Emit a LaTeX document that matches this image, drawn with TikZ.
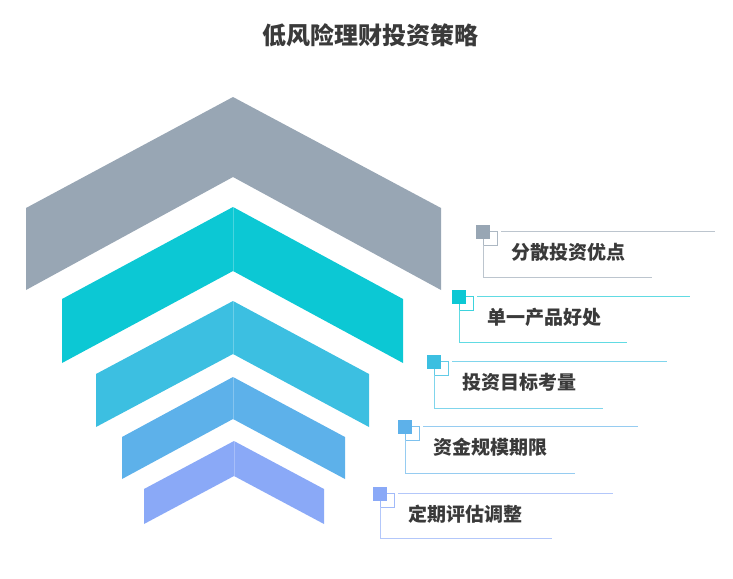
\documentclass[tikz,border=0pt]{standalone}
\usepackage{fontspec}
\setmainfont{Liberation Sans}
\newfontfamily\cjk{Noto Sans CJK SC}
\definecolor{cA}{HTML}{98A6B4}
\definecolor{cB}{HTML}{0CC8D4}
\definecolor{cC}{HTML}{3CBFE1}
\definecolor{cD}{HTML}{5DB1EA}
\definecolor{cE}{HTML}{8AA9F7}
\definecolor{txt}{HTML}{3A3A3A}
\tikzset{
  chev/.style={draw=none},
  seam/.style={draw=white,opacity=0.25,line width=0.6pt},
  marksq/.style={draw=none},
  outsq/.style={line width=0.8pt},
  guide/.style={line width=0.9pt},
  labtxt/.style={font=\cjk\bfseries\fontsize{19}{22}\selectfont,text=txt,anchor=west,inner sep=0pt},
}
\begin{document}
\begin{tikzpicture}[x=1pt,y=-1pt]
\useasboundingbox (0,0) rectangle (733,578);
\node[font=\cjk\bfseries\fontsize{24}{28}\selectfont,text=txt] (title) at (370,35) {低风险理财投资策略};
% chevrons
\fill[cA,chev] (26,208) -- (233,97) -- (441,208) -- (441,290) -- (233,177) -- (26,290) -- cycle;
\fill[cB,chev] (62,299) -- (233,207) -- (403,299) -- (403,363) -- (233,271) -- (62,363) -- cycle;
\fill[cC,chev] (96,374) -- (233,301) -- (369,374) -- (369,427) -- (233,354) -- (96,427) -- cycle;
\fill[cD,chev] (122,437) -- (233,377) -- (345,437) -- (345,479) -- (233,419) -- (122,479) -- cycle;
\fill[cE,chev] (144,489) -- (234,441) -- (324,489) -- (324,524) -- (234,476) -- (144,524) -- cycle;
\draw[seam] (233,207) -- (233,271);
\draw[seam] (233,301) -- (233,354);
\draw[seam] (233,377) -- (233,419);
\draw[seam] (234,441) -- (234,476);
% labels
\foreach \i/\sx/\sy/\tx/\by/\bx/\col/\lab in {
  1/476/225/715/277/652/cA/分散投资优点,
  2/452/290/690/342/627/cB/单一产品好处,
  3/427/355/667/408/603/cC/投资目标考量,
  4/398/420/638/473/575/cD/资金规模期限,
  5/373/487/613/538/552/cE/定期评估调整}{
  \coordinate (q\i) at (\sx,\sy);
  \coordinate (ta\i) at (\sx+25,\sy+6);
  \coordinate (tb\i) at (\tx,\sy+6);
  \coordinate (va\i) at (\sx+7,\sy+20);
  \coordinate (vb\i) at (\sx+7,\by);
  \coordinate (bb\i) at (\bx,\by);
  \draw[outsq,\col!80] (\sx+7,\sy+6) rectangle (\sx+21,\sy+20);
  \fill[marksq,\col] (q\i) rectangle ++(14,14);
  \draw[guide,\col!65] (ta\i) -- (tb\i);
  \draw[guide,\col!65] (va\i) -- (vb\i) -- (bb\i);
  \node[labtxt] (l\i) at (\sx+35,\sy+27) {\lab};
}
\end{tikzpicture}
\end{document}
